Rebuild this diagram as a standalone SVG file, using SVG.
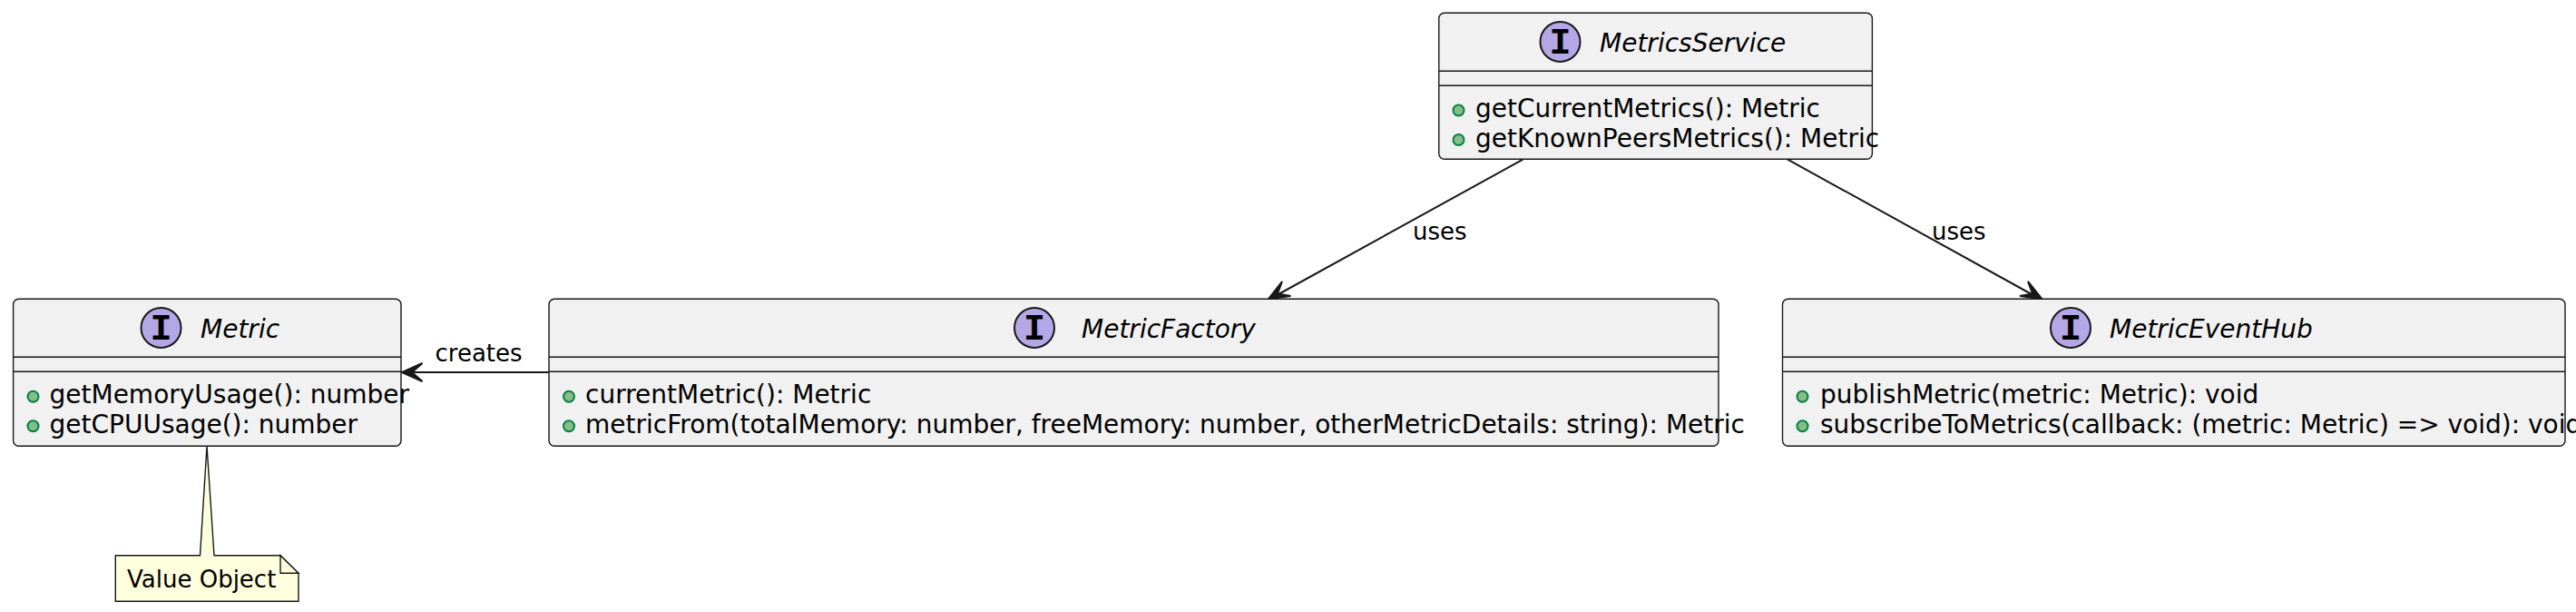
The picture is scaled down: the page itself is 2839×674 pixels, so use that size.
<svg xmlns="http://www.w3.org/2000/svg" width="2839" height="674" viewBox="0 0 2839 674">
<style>
text{font-family:"DejaVu Sans",sans-serif;fill:#000}
.box{fill:#F1F1F1;stroke:#181818;stroke-width:1.4}
.sep{stroke:#181818;stroke-width:1.4;fill:none}
.spot{fill:#B4A7E5;stroke:#181818;stroke-width:2}
.i{font-family:"Liberation Mono",monospace;font-weight:bold;font-size:40px;text-anchor:middle}
.title{font-size:28px;font-style:italic}
.m{font-size:28px}
.vis{fill:#84BE84;stroke:#038048;stroke-width:2}
.lab{font-size:26px}
.link{stroke:#181818;stroke-width:2;fill:none}
.head{fill:#181818;stroke:#181818;stroke-width:2}
.note{fill:#FEFFDD;stroke:#181818;stroke-width:1.4}
</style>
<rect width="2839" height="674" fill="#fff"/>
<g id="connectors">
<line class="link" x1="605" y1="410" x2="444" y2="410"/>
<polygon class="head" points="443,410 465.5,420 454,410 465.5,400"/>
<text class="lab" x="479.5" y="398">creates</text>
<line class="link" x1="1678.8" y1="175.3" x2="1400" y2="329"/>
<polygon class="head" points="1398,329.3 1422.5,326 1408,323.5 1413,310"/>
<text class="lab" x="1557" y="264">uses</text>
<line class="link" x1="1969.8" y1="175.3" x2="2248" y2="329"/>
<polygon class="head" points="2250.5,329.3 2235,310 2240,323.5 2226,326"/>
<text class="lab" x="2129" y="264">uses</text>
</g>
<g id="metric">
<rect class="box" x="14.6" y="329.3" width="427.4" height="162" rx="6"/>
<line class="sep" x1="15" y1="393.3" x2="442" y2="393.3"/>
<line class="sep" x1="15" y1="409.3" x2="442" y2="409.3"/>
<circle class="spot" cx="177.5" cy="361" r="22"/>
<text class="i" x="177.5" y="374">I</text>
<text class="title" x="221" y="372">Metric</text>
<circle class="vis" cx="36.5" cy="436.7" r="6"/>
<text class="m" x="54.5" y="444">getMemoryUsage(): number</text>
<circle class="vis" cx="36.5" cy="469.3" r="6"/>
<text class="m" x="54.5" y="477">getCPUUsage(): number</text>
</g>
<g id="note">
<path class="note" d="M127.3,611.7 L220.5,611.7 L228,491.3 L236,611.7 L309,611.7 L329,631.3 L329,662.3 L127.3,662.3 Z"/>
<path class="note" d="M309,611.7 L309,631.3 L329,631.3 Z"/>
<text class="m" x="140" y="647" style="font-size:26px">Value Object</text>
</g>
<g id="metricfactory">
<rect class="box" x="605" y="329.3" width="1289" height="162" rx="6"/>
<line class="sep" x1="605" y1="393.3" x2="1894" y2="393.3"/>
<line class="sep" x1="605" y1="409.3" x2="1894" y2="409.3"/>
<circle class="spot" cx="1140" cy="361" r="22"/>
<text class="i" x="1140" y="374">I</text>
<text class="title" x="1192" y="372">MetricFactory</text>
<circle class="vis" cx="627" cy="436.7" r="6"/>
<text class="m" x="645" y="444">currentMetric(): Metric</text>
<circle class="vis" cx="627" cy="469.3" r="6"/>
<text class="m" x="645" y="477">metricFrom(totalMemory: number, freeMemory: number, otherMetricDetails: string): Metric</text>
</g>
<g id="metricseventhub">
<rect class="box" x="1964.5" y="329.3" width="862.5" height="162" rx="6"/>
<line class="sep" x1="1965" y1="393.3" x2="2827" y2="393.3"/>
<line class="sep" x1="1965" y1="409.3" x2="2827" y2="409.3"/>
<circle class="spot" cx="2282" cy="361" r="22"/>
<text class="i" x="2282" y="374">I</text>
<text class="title" x="2325" y="372">MetricEventHub</text>
<circle class="vis" cx="1986.5" cy="436.7" r="6"/>
<text class="m" x="2006" y="444">publishMetric(metric: Metric): void</text>
<circle class="vis" cx="1986.5" cy="469.3" r="6"/>
<text class="m" x="2006" y="477">subscribeToMetrics(callback: (metric: Metric) => void): void</text>
</g>
<g id="metricsservice">
<rect class="box" x="1585.8" y="14.3" width="477.6" height="161" rx="6"/>
<line class="sep" x1="1586" y1="78.3" x2="2063" y2="78.3"/>
<line class="sep" x1="1586" y1="94.3" x2="2063" y2="94.3"/>
<circle class="spot" cx="1719.5" cy="46" r="22"/>
<text class="i" x="1719.5" y="59">I</text>
<text class="title" x="1763" y="57">MetricsService</text>
<circle class="vis" cx="1607.5" cy="121.5" r="6"/>
<text class="m" x="1626" y="129">getCurrentMetrics(): Metric</text>
<circle class="vis" cx="1607.5" cy="154" r="6"/>
<text class="m" x="1626" y="162">getKnownPeersMetrics(): Metric</text>
</g>
</svg>
